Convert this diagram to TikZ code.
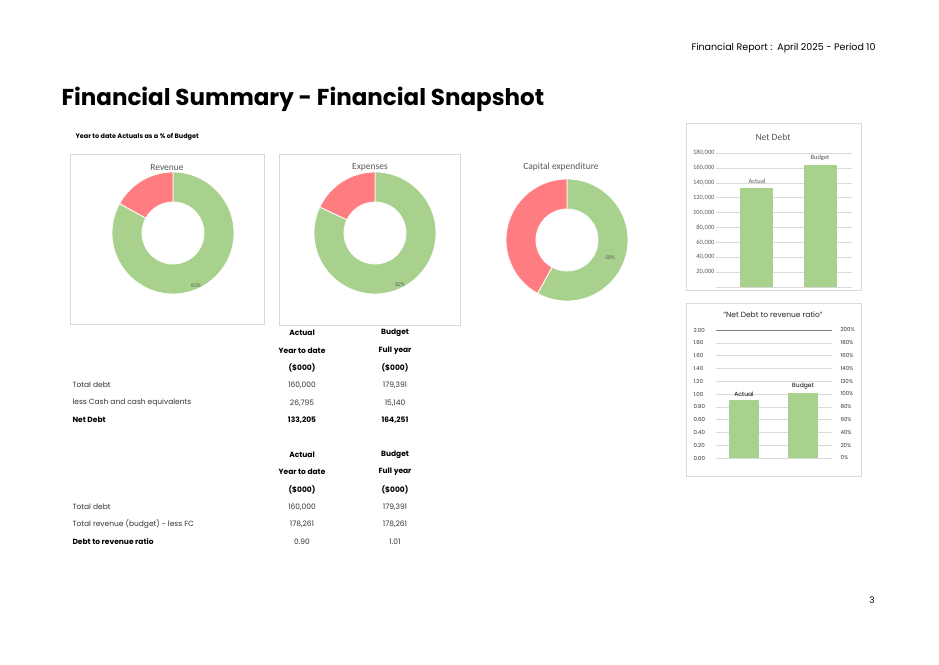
\documentclass[tikz,border=0pt]{standalone}
\usepackage{fontspec}
\setmainfont{Poppins}
\newfontfamily\carl{Carlito}
\definecolor{grn}{HTML}{A9D18E}
\definecolor{rd}{HTML}{FF7C80}
\definecolor{gtx}{HTML}{595959}
\definecolor{gline}{HTML}{D9D9D9}
\usetikzlibrary{calc}
\tikzset{panel/.style={draw=gline,line width=0.6pt},
 lbl/.style={font=\carl\fontsize{6.5}{7}\selectfont,text=gtx},
 ctitle/.style={font=\carl\fontsize{9.5}{10}\selectfont,text=gtx},
 tb/.style={font=\fontsize{7.5}{8}\selectfont,text=black!80},
 tbb/.style={font=\bfseries\fontsize{7.5}{8}\selectfont}}
\newcommand{\donut}[3]{% cx cy frac
 \pgfmathsetmacro{\ea}{90-360*#3}
 \pgfmathsetmacro{\eb}{\ea+360}
 \begin{scope}[shift={(#1,#2)},yscale=-1]
 \fill[grn,draw=white,line width=0.8pt] (90:61) arc[start angle=90,end angle=\ea,radius=61] -- (\ea:31) arc[start angle=\ea,end angle=90,radius=31] -- cycle;
 \fill[rd,draw=white,line width=0.8pt] (90:61) arc[start angle=90,end angle=\eb,radius=61] -- (\eb:31) arc[start angle=\eb,end angle=90,radius=31] -- cycle;
 \end{scope}
}
\begin{document}
\begin{tikzpicture}[x=1pt,y=-1pt]
\useasboundingbox[fill=white] (0,0) rectangle (939,664);
\node[anchor=east,font=\fontsize{9.5}{10}\selectfont] (hdr) at (879,48) {Financial Report :\ \ April 2025 - Period 10};
\node[anchor=west,font=\bfseries\fontsize{23}{26}\selectfont] (ttl) at (58,99) {Financial Summary - Financial Snapshot};
\node[anchor=west,font=\bfseries\fontsize{6.5}{8}\selectfont] (sub) at (72,137) {Year to date Actuals as a \% of Budget};
\draw[panel] (70,154) rectangle (264,324);
\draw[panel] (279,154) rectangle (460,325);
\node[ctitle] (t1) at (167,167) {Revenue};
\node[ctitle] (t2) at (370,167) {Expenses};
\node[ctitle] (t3) at (561,167) {Capital expenditure};
\donut{173}{233}{0.83}
\donut{375}{233}{0.82}
\donut{567}{240}{0.58}
\node[lbl,font=\carl\fontsize{5.5}{6}\selectfont] (p1) at (196,286) {83\%};
\node[lbl,font=\carl\fontsize{5.5}{6}\selectfont] (p2) at (400,285) {82\%};
\node[lbl,font=\carl\fontsize{5.5}{6}\selectfont] (p3) at (610,258) {58\%};
\draw[panel] (686,123) rectangle (861,290);
\node[ctitle] (nd) at (773,137) {Net Debt};
\foreach \v/\t in {1/20,2/40,3/60,4/80,5/100,6/120,7/140,8/160,9/180}{
 \draw[gline,line width=0.4pt] (716,287-14.9*\v) -- (852,287-14.9*\v);
 \node[lbl,anchor=east] at (718,287-14.9*\v) {\t,000};}
\draw[gline,line width=0.4pt] (716,287) -- (852,287);
\fill[grn] (740,287) rectangle (773,187.8);
\fill[grn] (804,287) rectangle (837,164.6);
\node[lbl] (na) at (757,181) {Actual};
\node[lbl] (nb) at (820,158) {Budget};
\draw[panel] (686,303) rectangle (861,476);
\node[font=\fontsize{7.5}{9}\selectfont,text=black!85] (rt) at (773,315) {"Net Debt to revenue ratio"};
\foreach \i/\l/\p in {0/0.00/0,1/0.20/20,2/0.40/40,3/0.60/60,4/0.80/80,5/1.00/100,6/1.20/120,7/1.40/140,8/1.60/160,9/1.80/180,10/2.00/200}{
 \draw[gline,line width=0.4pt] (716,458-12.8*\i) -- (832,458-12.8*\i);
 \node[anchor=west,font=\fontsize{5.5}{6}\selectfont,text=black!80] at (690,458-12.8*\i) {\l};
 \node[anchor=west,font=\fontsize{5.5}{6}\selectfont,text=black!80] at (837,458-12.8*\i) {\p\%};}
\draw[gray,line width=0.8pt] (716,330) -- (832,330);
\fill[grn] (729,458) rectangle (759,400.4);
\fill[grn] (788,458) rectangle (818,393.4);
\node[font=\fontsize{6}{6}\selectfont] (ra) at (744,394) {Actual};
\node[font=\fontsize{6}{6}\selectfont] (rb) at (803,386) {Budget};
\foreach \y/\a/\b in {333/Actual/Budget,351/Year to date/Full year,368/(\$000)/(\$000),455/Actual/Budget,472/Year to date/Full year,490/(\$000)/(\$000)}{
 \node[tbb] at (302,\y) {\a}; \node[tbb] at (395,\y) {\b};}
\foreach \y/\l/\a/\b in {385/Total debt/{160,000}/{179,391},403/less Cash and cash equivalents/{26,795}/{15,140},507/Total debt/{160,000}/{179,391},524/Total revenue (budget) - less FC/{178,261}/{178,261}}{
 \node[tb,anchor=west] at (69,\y) {\l}; \node[tb] at (302,\y) {\a}; \node[tb] at (395,\y) {\b};}
\node[tbb,anchor=west] at (69,420) {Net Debt}; \node[tbb] at (302,420) {133,205}; \node[tbb] at (395,420) {164,251};
\node[tbb,anchor=west] at (69,542) {Debt to revenue ratio}; \node[tb] at (302,542) {0.90}; \node[tb] at (395,542) {1.01};
\node[font=\fontsize{9}{10}\selectfont] (pg) at (872,600) {3};
\end{tikzpicture}
\end{document}
